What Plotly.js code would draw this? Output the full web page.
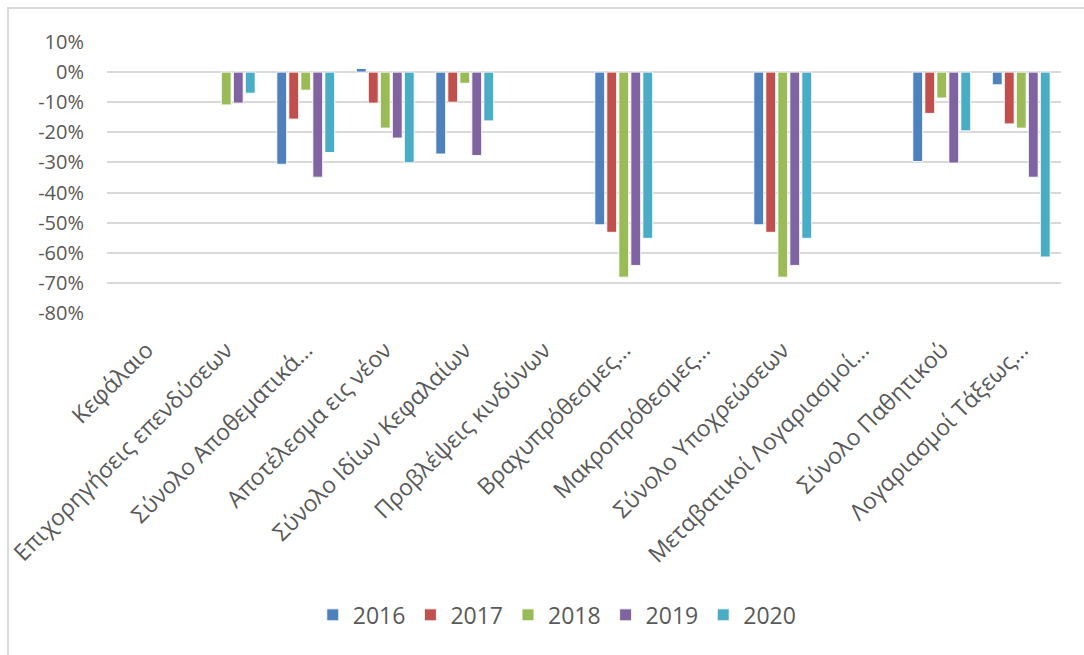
<!DOCTYPE html>
<html>
<head>
<meta charset="utf-8">
<script src="https://cdn.plot.ly/plotly-3.0.1.min.js"></script>
<style>
  html, body { margin: 0; padding: 0; background: #fff; }
  #wrap { position: relative; width: 1084px; height: 655px; overflow: hidden; }
  #chart { width: 1084px; height: 655px; }
  #frame { position: absolute; left: 7px; top: 7px; width: 1100px; height: 700px;
           border-left: 2px solid #d9d9d9; border-top: 2px solid #d9d9d9; pointer-events: none; }
</style>
</head>
<body>
<div id="wrap">
  <div id="chart"></div>
  <div id="frame"></div>
</div>
<script>
const categories = [
  "Κεφάλαιο",
  "Επιχορηγήσεις επενδύσεων",
  "Σύνολο Αποθεματικά…",
  "Αποτέλεσμα εις νέον",
  "Σύνολο Ιδίων Κεφαλαίων",
  "Προβλέψεις κινδύνων",
  "Βραχυπρόθεσμες…",
  "Μακροπρόθεσμες…",
  "Σύνολο Υποχρεώσεων",
  "Μεταβατικοί Λογαριασμοί…",
  "Σύνολο Παθητικού",
  "Λογαριασμοί Τάξεως…"
];
const seriesNames = ["2016", "2017", "2018", "2019", "2020"];
const v2016 = [null, null, -30.6, 1.2, -27.2, null, -50.7, null, -50.7, null, -29.7, -4.2];
const v2017 = [null, null, -15.6, -10.3, -10.0, null, -53.2, null, -53.2, null, -13.7, -17.2];
const v2018 = [null, -10.9, -6.0, -18.6, -3.7, null, -68.1, null, -68.1, null, -8.6, -18.6];
const v2019 = [null, -10.3, -34.9, -21.9, -27.7, null, -64.2, null, -64.2, null, -30.2, -34.9];
const v2020 = [null, -7.0, -26.7, -30.1, -16.2, null, -55.2, null, -55.2, null, -19.5, -61.4];
const yTickVals = [10, 0, -10, -20, -30, -40, -50, -60, -70, -80];
const yTickText = ["10%", "0%", "-10%", "-20%", "-30%", "-40%", "-50%", "-60%", "-70%", "-80%"];
const colors = ["#4F81BD", "#C0504D", "#9BBB59", "#8064A2", "#4BACC6"];

const allValues = [v2016, v2017, v2018, v2019, v2020];
const traces = allValues.map((vals, i) => ({
  type: "bar",
  name: seriesNames[i],
  x: categories,
  y: vals,
  marker: { color: colors[i], line: { color: "rgba(255,255,255,0.9)", width: 1 } },
  hoverinfo: "x+y+name"
}));

const layout = {
  width: 1084,
  height: 655,
  paper_bgcolor: "#ffffff",
  plot_bgcolor: "#ffffff",
  margin: { l: 107, r: 23, t: 42, b: 342 },
  font: { family: "Open Sans, Noto Sans, sans-serif", color: "#595959", size: 20 },
  barmode: "group",
  bargap: 0.245,
  bargroupgap: 0.18,
  showlegend: true,
  legend: {
    orientation: "h",
    x: 0.472, xanchor: "center",
    y: -1.114, yanchor: "middle",
    font: { size: 23, color: "#595959" },
    traceorder: "normal"
  },
  xaxis: {
    type: "category",
    tickangle: -45,
    showgrid: false,
    showline: false,
    zeroline: false,
    ticks: "",
    ticklabelstandoff: 18,
    tickfont: { size: 23, color: "#595959" },
    automargin: false
  },
  yaxis: {
    range: [-80, 10],
    tickvals: yTickVals,
    ticktext: yTickText,
    showgrid: true,
    gridcolor: "#d9d9d9",
    gridwidth: 2,
    zeroline: false,
    showline: false,
    ticks: "",
    ticklabelstandoff: 22,
    tickfont: { size: 20, color: "#595959" },
    automargin: false
  }
};

Plotly.newPlot("chart", traces, layout, { displayModeBar: false, staticPlot: false });
</script>
</body>
</html>
